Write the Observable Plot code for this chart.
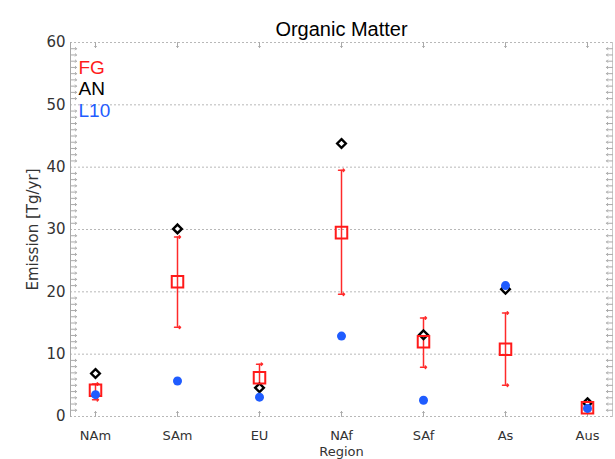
<!DOCTYPE html>
<html>
<head>
<meta charset="utf-8">
<script src="https://cdn.jsdelivr.net/npm/d3@7"></script>
<script src="https://cdn.jsdelivr.net/npm/@observablehq/plot@0.6"></script>
<style>
  html, body { margin: 0; padding: 0; background: #fff; }
  #chart svg { display: block; }
</style>
</head>
<body>
<div id="chart"></div>
<script>
const regions = ["NAm", "SAm", "EU", "NAf", "SAf", "As", "Aus"];
const fgValues = [4.2, 21.6, 6.2, 29.5, 12.0, 10.8, 1.4];
const fgLow    = [2.7, 14.3, 4.6, 19.6, 7.9, 5.0, 1.0];
const fgHigh   = [5.2, 28.8, 8.4, 39.5, 15.8, 16.6, 1.8];
const anValues = [6.9, 30.1, 4.6, 43.8, 13.1, 20.4, 2.2];
const l10Values = [3.5, 5.7, 3.1, 12.9, 2.6, 21.0, 1.3];
const yMajorTicks = [0, 10, 20, 30, 40, 50, 60];
const yMinorTicks = d3.range(1, 60).filter(v => v % 10 !== 0);
const legendLabels = ["FG", "AN", "L10"];
const legendColors = ["#ff1a1a", "#000000", "#1f5cff"];

const rows = regions.map((r, i) => ({
  region: r, fg: fgValues[i], lo: fgLow[i], hi: fgHigh[i], an: anValues[i], l10: l10Values[i]
}));

const gridColor = "#b8b8b8";
const font = "Liberation Sans, Arial, Helvetica, sans-serif";
const axisFont = "DejaVu Sans, Verdana, sans-serif";

const legendMarks = legendLabels.map((label, i) =>
  Plot.text([label], { frameAnchor: "top-left", dx: 8, dy: 25 + i * 21.5, textAnchor: "start", lineAnchor: "middle", fontSize: 19, fontFamily: font, fill: legendColors[i] })
);

const chart = Plot.plot({
  width: 615,
  height: 459,
  marginLeft: 70,
  marginRight: 3,
  marginTop: 42,
  marginBottom: 43,
  style: { fontFamily: font, background: "#fff" },
  x: { type: "point", domain: regions, padding: 0.29 },
  y: { domain: [0, 60] },
  marks: [
    // grid lines (dotted)
    Plot.ruleY(yMajorTicks, { stroke: gridColor, strokeDasharray: "2,2", strokeWidth: 1 }),
    // frame sides
    Plot.frame({ anchor: "left", stroke: "#a8a8a8" }),
    Plot.frame({ anchor: "right", stroke: "#c8c8c8" }),
    // minor ticks left & right
    Plot.vector(yMinorTicks, { y: d => d, frameAnchor: "left", rotate: 90, length: 6, anchor: "start", stroke: "#aaa", strokeWidth: 1 }),
    Plot.vector(yMinorTicks, { y: d => d, frameAnchor: "right", rotate: -90, length: 6, anchor: "start", stroke: "#aaa", strokeWidth: 1 }),
    // category ticks top & bottom
    Plot.vector(regions, { x: d => d, frameAnchor: "top", rotate: 180, length: 5, anchor: "start", stroke: "#aaa", strokeWidth: 1 }),
    Plot.vector(regions, { x: d => d, frameAnchor: "bottom", rotate: 0, length: 5, anchor: "start", stroke: "#aaa", strokeWidth: 1 }),
    // axes
    Plot.axisY(yMajorTicks, { tickSize: 0, tickPadding: 5, fontSize: 15, fontFamily: axisFont, fill: "#333", label: null }),
    Plot.axisX({ tickSize: 0, tickPadding: 14, fontSize: 13, fontFamily: axisFont, fill: "#333", label: null }),
    // error bars
    Plot.ruleX(rows, { x: "region", y1: "lo", y2: "hi", stroke: "#ff2a2a", strokeWidth: 1.5 }),
    Plot.vector(rows, { x: "region", y: "lo", rotate: 90, length: 6, anchor: "middle", stroke: "#ff2a2a", strokeWidth: 1.5 }),
    Plot.vector(rows, { x: "region", y: "hi", rotate: 90, length: 6, anchor: "middle", stroke: "#ff2a2a", strokeWidth: 1.5 }),
    // AN diamonds
    Plot.dot(rows, { x: "region", y: "an", symbol: "diamond2", r: 3.9, stroke: "#000", strokeWidth: 2.4, fill: "#fff" }),
    // FG squares
    Plot.dot(rows, { x: "region", y: "fg", symbol: "square", r: 6.5, stroke: "#ff1a1a", strokeWidth: 2, fill: "none" }),
    // L10 circles
    Plot.dot(rows, { x: "region", y: "l10", r: 4.5, fill: "#1f5cff", stroke: "none" }),
    // title
    Plot.text(["Organic Matter"], { frameAnchor: "top", dy: -21, fontSize: 20, fill: "#000" }),
    // y label
    Plot.text(["Emission [Tg/yr]"], { frameAnchor: "left", textAnchor: "middle", rotate: -90, dx: -37, dy: 0, fontSize: 15, fontFamily: axisFont, fill: "#333" }),
    // x label
    Plot.text(["Region"], { frameAnchor: "bottom", textAnchor: "middle", dy: 39, fontSize: 13, fontFamily: axisFont, fill: "#333" }),
    // legend
    ...legendMarks
  ]
});
document.getElementById("chart").appendChild(chart);
</script>
</body>
</html>
